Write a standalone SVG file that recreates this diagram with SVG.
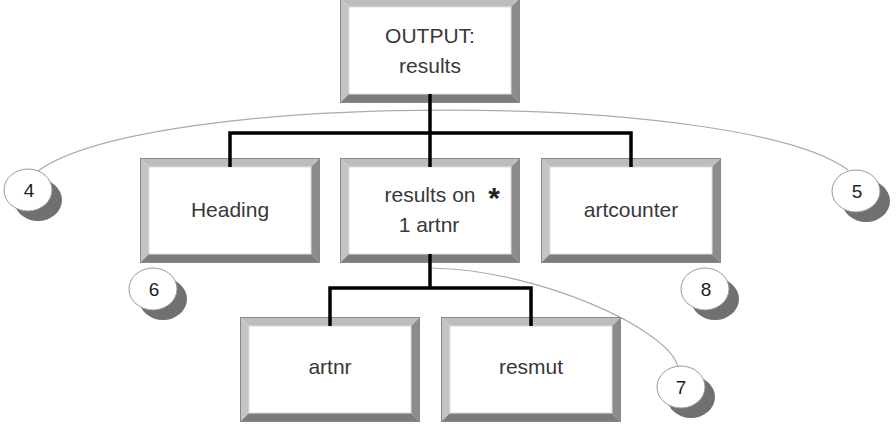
<svg xmlns="http://www.w3.org/2000/svg" xmlns:xlink="http://www.w3.org/1999/xlink" width="896" height="426" viewBox="0 0 896 426">
<style>
.lbl{font-family:"Liberation Sans",Arial,sans-serif;font-size:21px;fill:#383838;text-anchor:middle}
.num{font-family:"Liberation Sans",Arial,sans-serif;font-size:19px;fill:#222;text-anchor:middle}
.star{font-family:"Liberation Sans",Arial,sans-serif;font-size:30px;font-weight:bold;fill:#222;text-anchor:middle}
.conn{stroke:#000;stroke-width:3.5;fill:none;stroke-linecap:butt}
.arc{stroke:#aaa;stroke-width:1.2;fill:none}
.bub{fill:#fff;stroke:#999;stroke-width:1}
.shd{fill:#707070}
</style>
<defs>
<g id="box">
<rect x="0" y="0" width="180" height="105" fill="#fff"/>
<polygon points="0,0 180,0 171,9 9,9" fill="#bdbdbd"/>
<polygon points="0,0 9,9 9,96 0,105" fill="#c4c4c4"/>
<polygon points="180,0 180,105 171,96 171,9" fill="#8c8c8c"/>
<polygon points="0,105 180,105 171,96 9,96" fill="#7c7c7c"/>
<rect x="0.5" y="0.5" width="179" height="104" fill="none" stroke="#888" stroke-width="1"/>
<rect x="9" y="9" width="162" height="87" fill="none" stroke="#ddd" stroke-width="1"/>
</g>
<g id="bubble">
<ellipse cx="10" cy="10" rx="24" ry="21" class="shd"/>
<ellipse cx="0" cy="0" rx="24" ry="21" class="bub"/>
</g>
</defs>

<g id="arcs">
<path class="arc" d="M38,171 C150,90 740,90 848,170"/>
<path class="arc" d="M432,268 C540,270 670,330 678,367"/>
</g>

<g id="node-output">
<use xlink:href="#box" x="340" y="-2"/>
<text class="lbl" x="430" y="43">OUTPUT:</text>
<text class="lbl" x="430" y="73">results</text>
</g>
<g id="node-heading">
<use xlink:href="#box" x="140" y="158"/>
<text class="lbl" x="230" y="217">Heading</text>
</g>
<g id="node-results-on">
<use xlink:href="#box" x="340" y="158"/>
<text class="lbl" x="430" y="202">results on</text>
<text class="star" x="494" y="208">*</text>
<text class="lbl" x="429" y="232">1 artnr</text>
</g>
<g id="node-artcounter">
<use xlink:href="#box" x="541" y="158"/>
<text class="lbl" x="631" y="217">artcounter</text>
</g>
<g id="node-artnr">
<use xlink:href="#box" x="240" y="317"/>
<text class="lbl" x="330" y="374">artnr</text>
</g>
<g id="node-resmut">
<use xlink:href="#box" x="441" y="317"/>
<text class="lbl" x="531" y="374">resmut</text>
</g>

<g id="connectors">
<path class="conn" d="M430,94 V133 M230,133 H631 M230,131.25 V167 M430,133 V167 M631,131.25 V167"/>
<path class="conn" d="M430,254 V288 M330,288 H531 M330,286.25 V326 M531,286.25 V326"/>
</g>

<g id="note-4"><use xlink:href="#bubble" x="28" y="190"/><text class="num" x="29" y="197">4</text></g>
<g id="note-5"><use xlink:href="#bubble" x="856" y="191"/><text class="num" x="857" y="198">5</text></g>
<g id="note-6"><use xlink:href="#bubble" x="153" y="289"/><text class="num" x="154" y="296">6</text></g>
<g id="note-8"><use xlink:href="#bubble" x="705" y="289"/><text class="num" x="706" y="296">8</text></g>
<g id="note-7"><use xlink:href="#bubble" x="681" y="387"/><text class="num" x="681" y="394">7</text></g>
</svg>
